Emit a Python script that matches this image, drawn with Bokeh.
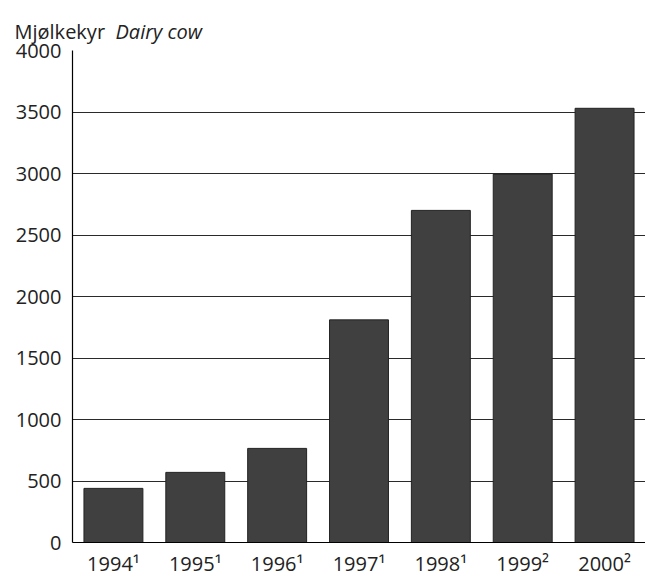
from bokeh.plotting import figure
from bokeh.layouts import column
from bokeh.models import FixedTicker, Label, ColumnDataSource, Range1d
from bokeh.embed import file_html
from bokeh.resources import INLINE

years = ["1994¹", "1995¹", "1996¹", "1997¹", "1998¹", "1999²", "2000²"]
values = [440, 570, 765, 1810, 2700, 2995, 3530]
y_ticks = [0, 500, 1000, 1500, 2000, 2500, 3000, 3500, 4000]
title_no = "Mjølkekyr"
title_en = "Dairy cow"

FONT = "Open Sans"
FS = "20px"
W = 645
TH = 50
OVERLAP = 12

# heading strip
t = figure(width=W, height=TH, x_range=Range1d(0, W), y_range=Range1d(0, TH),
           output_backend="svg", toolbar_location=None,
           x_axis_location=None, y_axis_location=None,
           min_border=0, min_border_left=0, min_border_right=0,
           min_border_top=0, min_border_bottom=0)
if "frame_align" in t.properties():
    t.frame_align = False
t.outline_line_color = None
t.xgrid.visible = False
t.ygrid.visible = False
t.add_layout(Label(x=14, y=TH - 31, text=title_no, text_font=FONT, text_font_size=FS,
                   text_color="#222222", text_baseline="alphabetic"))
t.add_layout(Label(x=115, y=TH - 31, text=title_en, text_font=FONT, text_font_size=FS,
                   text_font_style="italic", text_color="#222222",
                   text_baseline="alphabetic"))

src = ColumnDataSource(dict(year=years, value=values))

p = figure(x_range=years, y_range=(0, 4000), width=W, height=579 - TH + OVERLAP,
           output_backend="svg", toolbar_location=None,
           min_border_left=72, min_border_right=0, min_border_top=OVERLAP,
           min_border_bottom=36, margin=(-OVERLAP, 0, 0, 0))
if "frame_align" in p.properties():
    p.frame_align = False
p.border_fill_color = None

p.vbar(x="year", top="value", width=0.72, source=src,
       fill_color="#404040", line_color="#222222", line_width=1)

p.outline_line_color = None

p.yaxis.ticker = FixedTicker(ticks=y_ticks)
p.ygrid.ticker = FixedTicker(ticks=y_ticks)
p.ygrid.grid_line_color = "#2a2a2a"
p.xgrid.grid_line_color = None

for ax in (p.xaxis, p.yaxis):
    ax.axis_line_color = "black"
    ax.axis_line_width = 1.2
    ax.major_tick_line_color = None
    ax.minor_tick_line_color = None
    ax.major_label_text_font = FONT
    ax.major_label_text_font_size = FS
    ax.major_label_text_color = "#222222"

p.yaxis.major_label_standoff = 5
p.xaxis.major_label_standoff = 1

layout = column(t, p, spacing=0)
open("out.html", "w").write(file_html(layout, INLINE))
